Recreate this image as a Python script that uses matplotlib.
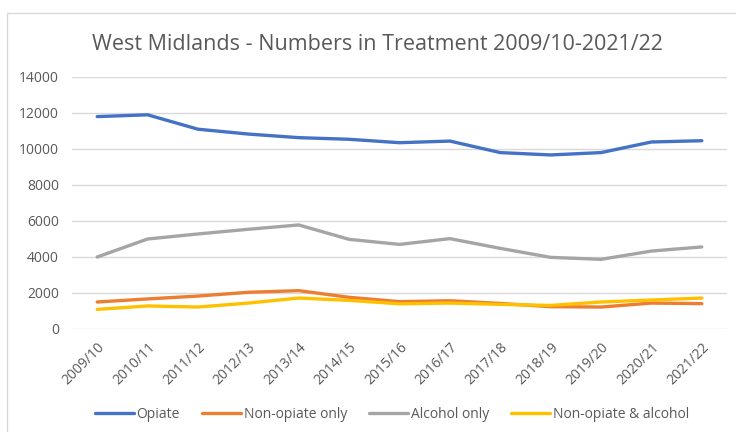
import matplotlib
matplotlib.use("Agg")
import matplotlib.pyplot as plt
from matplotlib.patches import Rectangle

years = ["2009/10", "2010/11", "2011/12", "2012/13", "2013/14", "2014/15", "2015/16",
         "2016/17", "2017/18", "2018/19", "2019/20", "2020/21", "2021/22"]
opiate = [11800, 11900, 11100, 10830, 10630, 10540, 10350, 10440, 9800, 9670, 9800, 10390, 10460]
non_opiate = [1500, 1670, 1830, 2040, 2130, 1760, 1520, 1570, 1420, 1240, 1220, 1440, 1410]
alcohol = [4000, 5000, 5280, 5540, 5780, 4980, 4700, 5020, 4480, 3980, 3870, 4330, 4560]
non_opiate_alcohol = [1090, 1280, 1220, 1440, 1720, 1590, 1400, 1440, 1370, 1310, 1500, 1610, 1720]

series = [
    ("Opiate", opiate, "#4472C4"),
    ("Non-opiate only", non_opiate, "#ED7D31"),
    ("Alcohol only", alcohol, "#A5A5A5"),
    ("Non-opiate & alcohol", non_opiate_alcohol, "#FFC000"),
]

plt.rcParams['font.family'] = ['Open Sans', 'DejaVu Sans']
txt = "#595959"

fig = plt.figure(figsize=(7.36, 4.32), dpi=100)
W, H = 736, 432
fig.patches.append(Rectangle((7 / W, -0.1), 1.2, 1 - 13 / H + 0.1, transform=fig.transFigure,
                             fill=False, edgecolor="#D9D9D9", linewidth=1.0))

ax = fig.add_axes([72 / W, 1 - 329 / H, (727 - 72) / W, (329 - 77) / H])
x = list(range(len(years)))
for name, vals, col in series:
    ax.plot(x, vals, color=col, linewidth=2.4, label=name, solid_capstyle="round")

ax.set_xlim(-0.5, len(years) - 0.5)
ax.set_ylim(0, 14000)
ax.set_yticks(range(0, 14001, 2000))
ax.set_yticklabels([str(v) for v in range(0, 14001, 2000)])
ax.set_xticks(x)
ax.set_xticklabels(years, rotation=45, ha="right", rotation_mode="anchor")
ax.tick_params(axis="both", length=0, colors=txt, labelsize=10)
ax.tick_params(axis="y", pad=9.5)
ax.tick_params(axis="x", pad=8)
ax.grid(axis="y", color="#D9D9D9", linewidth=1.0)
ax.set_axisbelow(True)
for s in ax.spines.values():
    s.set_visible(False)

fig.text(377 / W, 1 - 45 / H, "West Midlands - Numbers in Treatment 2009/10-2021/22",
         ha="center", va="center", fontsize=15.5, color=txt)

fig.legend(loc="center", bbox_to_anchor=(392 / W, 1 - 414 / H), ncol=4, frameon=False,
           fontsize=10, labelcolor=txt, handlelength=2.8, handletextpad=0.2, columnspacing=1.6)

fig.savefig("out.png", dpi=100)
